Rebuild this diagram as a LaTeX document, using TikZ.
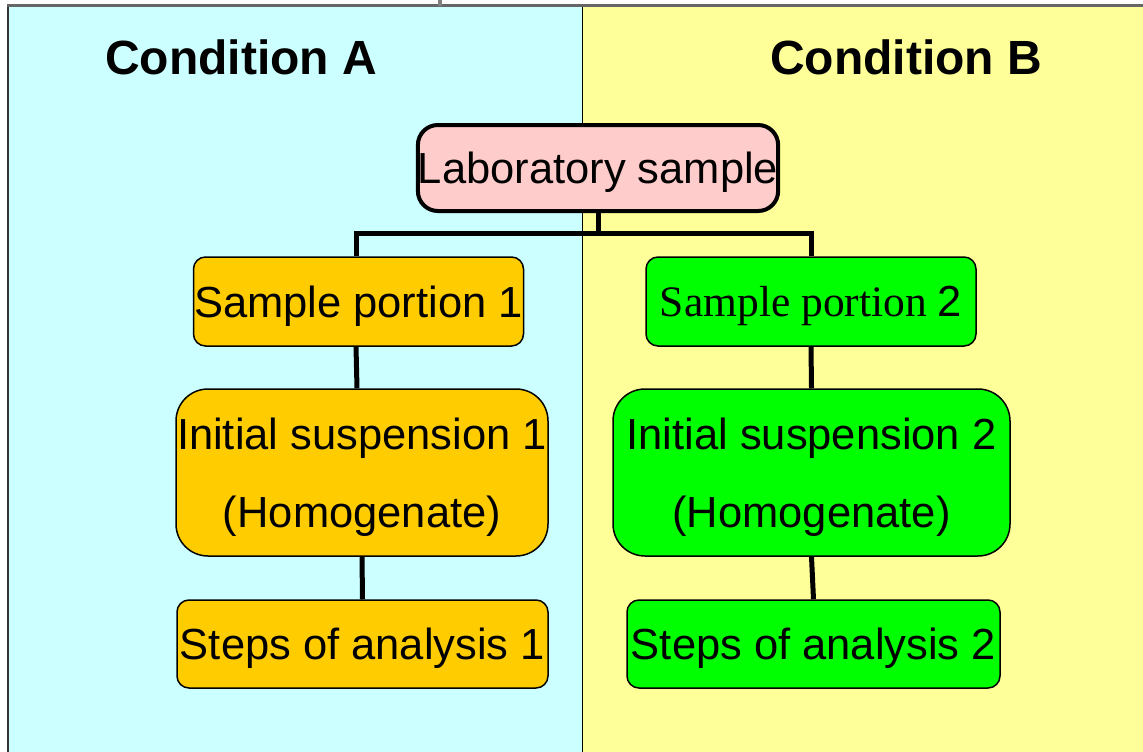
\documentclass[tikz,border=0pt]{standalone}
\usepackage{fontspec}
\setmainfont{Liberation Sans}
\newfontfamily\timesfont{Liberation Serif}
\definecolor{panelA}{HTML}{CCFFFF}
\definecolor{panelB}{HTML}{FFFF99}
\definecolor{labpink}{HTML}{FFCCCC}
\definecolor{portA}{HTML}{FFCC00}
\definecolor{portB}{HTML}{00FF00}
\begin{document}
\begin{tikzpicture}[x=1pt, y=-1pt,
  box/.style={draw=black, line width=1.5pt, rounded corners=12pt, inner sep=0pt,
    align=center, text depth=0pt, font=\fontsize{43.5}{78}\selectfont},
  link/.style={line width=5pt}]
  \useasboundingbox (0,0) rectangle (1143,752);
  % panels
  \fill[panelA] (8,6) rectangle (582,752);
  \fill[panelB] (582,6) rectangle (1143,752);
  \draw[line width=1pt] (582,6) -- (582,752);
  \draw[line width=2pt, black!80] (8,6) -- (8,752);
  \draw[line width=3pt, black!60] (7,6) -- (1143,6);
  \draw[line width=4pt, black!50] (440,0) -- (440,6);
  \node[font=\fontsize{48}{58}\selectfont\bfseries] (condA) at (241,57) {Condition A};
  \node[font=\fontsize{48}{58}\selectfont\bfseries] (condB) at (906,57) {Condition B};
  % boxes
  \node[box, line width=4pt, rounded corners=20pt, fill=labpink,
    minimum width=356pt, minimum height=86pt] (lab) at (598,168) {Laboratory sample};
  \node[box, fill=portA, minimum width=330pt, minimum height=89pt] (sp1) at (358.5,301.5) {Sample portion 1};
  \node[box, fill=portB, minimum width=330pt, minimum height=89pt] (sp2) at (811,301.5) {{\timesfont Sample portion }2};
  \node[box, fill=portA, rounded corners=32pt, minimum width=372pt, minimum height=167pt] (is1) at (362,472.5) {Initial suspension 1\\(Homogenate)};
  \node[box, fill=portB, rounded corners=32pt, minimum width=397pt, minimum height=167pt] (is2) at (811.5,472.5) {Initial suspension 2\\(Homogenate)};
  \node[box, fill=portA, minimum width=371pt, minimum height=88pt] (st1) at (362.5,644) {Steps of analysis 1};
  \node[box, fill=portB, minimum width=373pt, minimum height=88pt] (st2) at (813.5,644) {Steps of analysis 2};
  % connectors
  \coordinate (bus) at (598,233);
  \draw[link] (lab.south) -- (bus);
  \draw[link] ([xshift=-2.5pt]sp1.north) |- (bus) -| (sp2.north);
  \draw[link] ([xshift=-2.5pt]sp1.south) -- ([xshift=-5pt]is1.north);
  \draw[link] (is1.south) -- (st1.north);
  \draw[link] (sp2.south) -- (is2.north);
  \draw[link] (is2.south) -- (st2.north);
\end{tikzpicture}
\end{document}
